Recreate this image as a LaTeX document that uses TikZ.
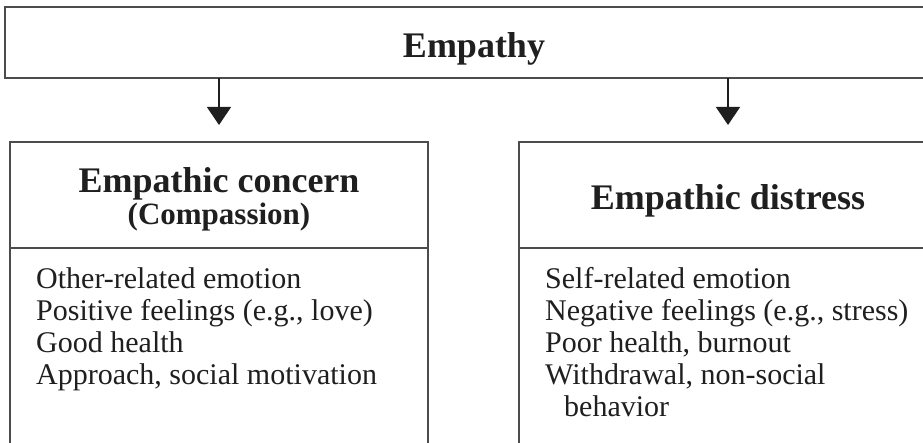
\documentclass[tikz,border=0pt]{standalone}
\usepackage{fontspec}
\setmainfont{Liberation Serif}
\usetikzlibrary{positioning,arrows.meta}
\definecolor{boxline}{gray}{0.3}
\definecolor{ink}{gray}{0.12}
\tikzstyle{topbox}=[rectangle,draw=boxline,text=ink,line width=1.6pt,outer sep=0pt,minimum width=938pt,minimum height=71pt,text height=30pt,text depth=0pt,font=\fontsize{36}{40}\selectfont\bfseries]
\tikzstyle{headbox}=[rectangle,draw=boxline,text=ink,line width=1.6pt,outer sep=0pt,minimum width=418pt,minimum height=106pt,align=center,font=\fontsize{36}{32}\selectfont\bfseries]
\tikzstyle{bodybox}=[rectangle,draw=boxline,line width=1.6pt,outer sep=0pt,minimum width=418pt,minimum height=220pt]
\tikzstyle{itemlist}=[inner sep=0pt,anchor=north west,align=left,text=ink,font=\fontsize{30}{32}\selectfont]
\tikzstyle{link}=[-{Triangle[width=24pt,length=18pt]},line width=1.3pt,draw=ink,shorten >=17pt]

\begin{document}
\begin{tikzpicture}[x=1pt,y=1pt]
  \useasboundingbox (0,0) rectangle (923,442);
  \clip (0,0) rectangle (923,442);
  \node [topbox] (empathy) at (474,399.5) {Empathy};
  \node [headbox,text height=62pt,text depth=2pt] (concern) at (219,247) {Empathic concern\\{\fontsize{31}{32}\selectfont (Compassion)}};
  \node [headbox,text height=30pt,text depth=0pt] (distress) at (728,247) {Empathic distress};
  \node [bodybox] (concernbody) [below=0pt of concern] {};
  \node [bodybox] (distressbody) [below=0pt of distress] {};
  \node [itemlist] (concernlist) at ([shift={(26,-19.5)}]concernbody.north west)
    {Other-related emotion\\Positive feelings (e.g., love)\\Good health\\Approach, social motivation};
  \node [itemlist] (distresslist) at ([shift={(26,-19.5)}]distressbody.north west)
    {Self-related emotion\\Negative feelings (e.g., stress)\\Poor health, burnout\\Withdrawal, non-social\\\hspace{19pt}behavior};
  \draw [link] (empathy.south -| concern.north) -- (concern.north);
  \draw [link] (empathy.south -| distress.north) -- (distress.north);
\end{tikzpicture}
\end{document}
